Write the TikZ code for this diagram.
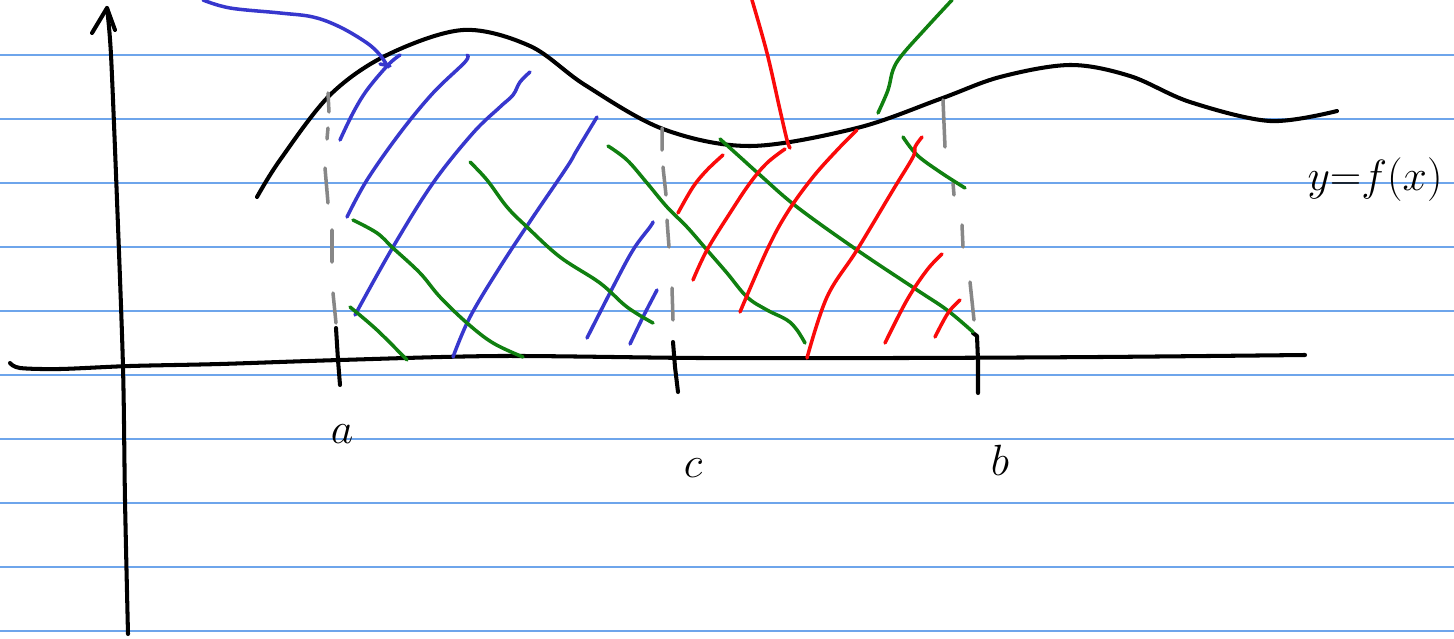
\documentclass[tikz,border=0pt]{standalone}
\usepackage{tikz}
\usetikzlibrary{positioning}
\definecolor{RuleBlue}{RGB}{110,165,235}
\definecolor{PenBlue}{RGB}{55,55,205}
\definecolor{PenGreen}{RGB}{16,128,16}
\definecolor{PenRed}{RGB}{250,10,10}
\definecolor{PenGray}{RGB}{135,135,135}

\begin{document}
\begin{tikzpicture}[x=0.02cm, y=-0.02cm,
  ruled/.style={draw=RuleBlue, line width=0.6pt},
  pen/.style={draw=black, line width=2.3pt, line cap=round, line join=round},
  guide/.style={draw=PenGray, line width=2pt, line cap=round},
  bluehatch/.style={draw=PenBlue, line width=2pt, line cap=round, line join=round},
  greenhatch/.style={draw=PenGreen, line width=2pt, line cap=round, line join=round},
  redhatch/.style={draw=PenRed, line width=2pt, line cap=round, line join=round},
  lab/.style={font=\fontsize{28}{32}\selectfont, inner sep=0pt},
]
\useasboundingbox (0,0) rectangle (1454,639);
\fill[white] (0,0) rectangle (1454,639);

% ruled paper
\foreach \y in {55,119,...,631}
  \draw[ruled] (0,\y) -- (1454,\y);

% axes
\draw[pen] plot[smooth, tension=0.5] coordinates {(128,634) (125,500) (123,367) (117,200) (111,55) (107,8)};
\draw[pen] (92,33) -- (107,8) -- (115,30);
\draw[pen] plot[smooth, tension=0.5] coordinates {(10,363) (20,368) (60,369) (130,366) (220,364) (340,360)
  (500,356) (700,358) (900,358) (1100,357) (1305,355)};

% ticks
\draw[pen] (336,328) -- (338,360) -- (340,385);
\draw[pen] (673,342) -- (675,367) -- (678,392);
\draw[pen] (973,333) -- (977,336) -- (978,360) -- (978,393);

% the curve
\draw[pen] plot[smooth, tension=0.55] coordinates {(257,197) (280,160) (330,95) (387,55) (463,30)
  (530,46) (585,85) (663,129) (750,146) (857,128) (940,99)
  (1000,77) (1070,65) (1130,76) (1190,102) (1270,121) (1337,111)};

% dashed guides
\draw[guide] (328,93) -- (329,112) (328,128) -- (327,139) (325,168) -- (328,203)
  (332,230) -- (332,262) (333,293) -- (336,323);
\draw[guide] (662,128) -- (662,150) (663,167) -- (666,195) (667,220) -- (669,247)
  (672,288) -- (673,320);
\draw[guide] (943,100) -- (945,147) (953,183) -- (954,195) (962,225) -- (963,247)
  (970,282) -- (974,320);

% blue strokes
\draw[bluehatch] plot[smooth, tension=0.6] coordinates {(203,0) (230,8) (280,13) (313,17) (340,27) (367,43) (380,55) (388,67)};
\draw[bluehatch] (380,64) -- (390,66);
\draw[bluehatch] plot[smooth, tension=0.6] coordinates {(400,55) (388,65) (367,90) (353,113) (340,140)};
\draw[bluehatch] plot[smooth, tension=0.6] coordinates {(467,55) (465,62) (433,93) (400,133) (367,180) (347,217)};
\draw[bluehatch] plot[smooth, tension=0.6] coordinates {(530,72) (520,82) (513,95) (500,107) (473,133) (433,183) (393,247) (355,315)};
\draw[bluehatch] plot[smooth, tension=0.6] coordinates {(597,117) (577,150) (567,167) (533,217) (500,267) (470,317) (453,357)};
\draw[bluehatch] plot[smooth, tension=0.6] coordinates {(653,222) (650,227) (633,250) (613,287) (587,338)};
\draw[bluehatch] plot[smooth, tension=0.6] coordinates {(657,290) (643,317) (630,344)};

% green strokes
\draw[greenhatch] plot[smooth, tension=0.6] coordinates {(952,0) (927,27) (902,55) (893,70) (888,90) (878,113)};
\draw[greenhatch] plot[smooth, tension=0.6] coordinates {(350,307) (377,330) (407,360)};
\draw[greenhatch] plot[smooth, tension=0.6] coordinates {(353,220) (377,233) (393,248) (420,273) (440,297) (467,323) (493,343) (523,357)};
\draw[greenhatch] plot[smooth, tension=0.6] coordinates {(470,162) (487,180) (507,207) (527,227) (560,257) (600,283) (627,307) (653,323)};
\draw[greenhatch] plot[smooth, tension=0.6] coordinates {(608,146) (627,160) (647,183) (667,207) (687,227) (707,250) (727,273)
  (747,297) (767,310) (787,320) (797,330) (805,343)};
\draw[greenhatch] plot[smooth, tension=0.6] coordinates {(720,139) (740,157) (760,175) (797,207) (857,250) (917,290) (947,310) (973,332)};
\draw[greenhatch] plot[smooth, tension=0.6] coordinates {(903,137) (917,155) (940,172) (965,188)};

% red strokes
\draw[redhatch] plot[smooth, tension=0.6] coordinates {(752,0) (767,53) (780,110) (787,140) (790,148)};
\draw[redhatch] plot[smooth, tension=0.6] coordinates {(723,155) (707,170) (693,187) (678,213)};
\draw[redhatch] plot[smooth, tension=0.6] coordinates {(785,149) (767,163) (750,183) (730,213) (707,250) (693,280)};
\draw[redhatch] plot[smooth, tension=0.6] coordinates {(857,130) (840,147) (813,177) (787,213) (767,250) (740,312)};
\draw[redhatch] plot[smooth, tension=0.6] coordinates {(922,137) (915,147) (913,157) (893,190) (857,250) (827,297) (807,358)};
\draw[redhatch] plot[smooth, tension=0.6] coordinates {(942,254) (927,270) (907,300) (885,343)};
\draw[redhatch] plot[smooth, tension=0.6] coordinates {(960,300) (948,313) (935,337)};

% labels
\node[lab] (la) at (342,434) {$a$};
\node[lab] (lc) at (693,468) {$c$};
\node[lab] (lb) at (1000,460) {$b$};
\node[lab] (lf) at (1375,180) {$y{=}f(x)$};
\end{tikzpicture}
\end{document}
